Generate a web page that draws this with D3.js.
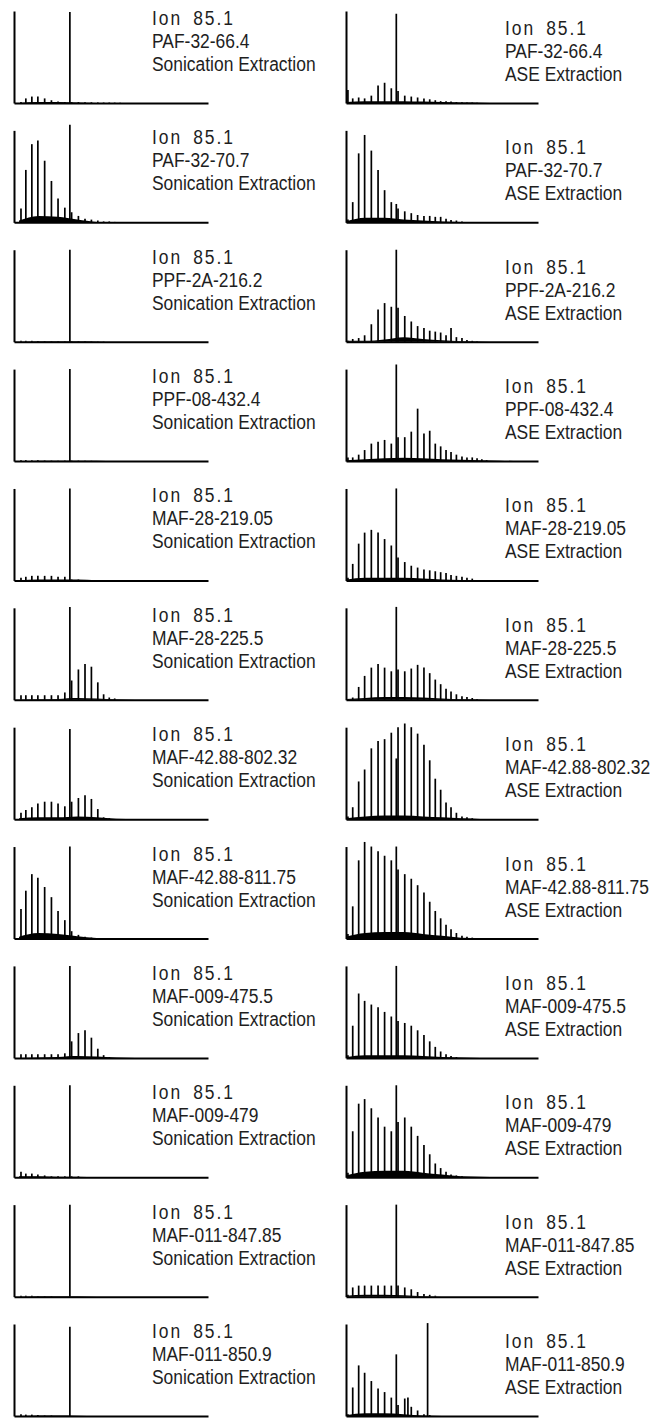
<!DOCTYPE html>
<html>
<head>
<meta charset="UTF-8">
<title>Ion 85.1 chromatograms</title>
<script src="https://d3js.org/d3.v7.min.js"></script>
<style>
  body { margin: 0; padding: 0; background: #fff; }
  .label { font-family: 'Liberation Sans', Arial, sans-serif; font-size: 21px; fill: #1e1e1e; }
</style>
</head>
<body>
<svg width="650" height="1418"></svg>
<script>
// ---- data ----
const ionLabel = "Ion 85.1";
const samples = ["PAF-32-66.4", "PAF-32-70.7", "PPF-2A-216.2", "PPF-08-432.4",
  "MAF-28-219.05", "MAF-28-225.5", "MAF-42.88-802.32", "MAF-42.88-811.75",
  "MAF-009-475.5", "MAF-009-479", "MAF-011-847.85", "MAF-011-850.9"];
const methods = ["Sonication Extraction", "ASE Extraction"];

// retention slots of the homologous series (arbitrary time units) and the standard
const alkaneRT = [0.4, 1.4, 2.64, 3.88, 5.28, 6.68, 8.04, 9.44, 10.84, 12.24, 13.6, 14.92,
  16.24, 17.44, 18.6, 19.72, 20.84, 21.88, 23.0, 24.16, 25.2, 26.3, 27.3, 28.3, 29.3];
const standardRT = 10.48;
const humpRT = [0, 4, 8, 12, 16, 20, 24, 28, 32, 36];

// peak heights, % of axis height
const sonicPeaks = [
  [1, 5, 7, 7, 5, 3, 1.5, 1, 1, 1, 0.8, 0.8, 0.6, 0.5, 0.5, 0.4, 0.3, 0, 0, 0, 0, 0, 0, 0, 0],
  [15, 57, 85, 89, 67, 45, 26, 16, 11, 7, 4, 3, 2, 1, 1, 0.5, 0, 0, 0, 0, 0, 0, 0, 0, 0],
  [1, 1, 1, 0.8, 0.6, 0.5, 0.5, 0.5, 0.5, 0.5, 0.4, 0.4, 0.3, 0.3, 0, 0, 0, 0, 0, 0, 0, 0, 0, 0, 0],
  [1, 1, 0.8, 0.8, 0.6, 0.5, 0.5, 0.5, 0.5, 0.5, 0.4, 0.3, 0, 0, 0, 0, 0, 0, 0, 0, 0, 0, 0, 0, 0],
  [3, 4, 5, 5, 5, 5, 4, 4, 1, 1, 0.5, 0, 0, 0, 0, 0, 0, 0, 0, 0, 0, 0, 0, 0, 0],
  [5, 5, 5, 5, 5, 5, 5, 8, 21, 33, 39, 36, 19, 6, 2.5, 1.5, 0, 0, 0, 0, 0, 0, 0, 0, 0],
  [7, 10, 13, 17, 19, 19, 17, 14, 19, 23, 26, 22, 11, 2, 1, 0, 0, 0, 0, 0, 0, 0, 0, 0, 0],
  [32, 52, 70, 66, 56, 45, 30, 20, 8, 4, 2, 1, 0, 0, 0, 0, 0, 0, 0, 0, 0, 0, 0, 0, 0],
  [4, 4, 4, 4, 4, 4, 4, 5, 18, 27, 30, 22, 10, 3, 1, 0, 0, 0, 0, 0, 0, 0, 0, 0, 0],
  [6, 4, 4, 3, 2, 1, 1, 1, 1, 1, 0, 0, 0, 0, 0, 0, 0, 0, 0, 0, 0, 0, 0, 0, 0],
  [1, 1, 1, 0.5, 0.5, 0.5, 0, 0, 0, 0, 0, 0, 0, 0, 0, 0, 0, 0, 0, 0, 0, 0, 0, 0, 0],
  [2, 1.5, 1.5, 1, 0.5, 0.5, 0, 0, 0, 0, 0, 0, 0, 0, 0, 0, 0, 0, 0, 0, 0, 0, 0, 0, 0]
];
const sonicStd = [99, 106, 100, 100, 100, 101, 98, 100, 100, 100, 100, 97];
const sonicHump = [
  [0, 1, 1, 0.5, 0, 0, 0, 0, 0, 0],
  [2, 7, 6, 3, 0.5, 0, 0, 0, 0, 0],
  [0, 0.5, 0.5, 0.5, 0.3, 0, 0, 0, 0, 0],
  [0, 0.5, 0.5, 0.5, 0.3, 0, 0, 0, 0, 0],
  [0, 1, 1, 1, 0.3, 0, 0, 0, 0, 0],
  [0, 0.5, 1, 2, 1.5, 0.5, 0, 0, 0, 0],
  [1, 2, 2, 3, 2, 0.5, 0, 0, 0, 0],
  [2, 6, 5, 2.5, 0.5, 0, 0, 0, 0, 0],
  [0, 0.5, 1, 2, 1.5, 0.5, 0, 0, 0, 0],
  [1, 1, 0.5, 0.5, 0, 0, 0, 0, 0, 0],
  [0, 0.5, 0.5, 0.3, 0, 0, 0, 0, 0, 0],
  [0, 0.5, 0.5, 0.3, 0, 0, 0, 0, 0, 0]
];

const asePeaks = [
  [14, 5, 6, 5, 8, 19, 22, 16, 13, 8, 7, 6, 5, 4, 3, 2, 2, 1.5, 1, 0.8, 0.5, 0.5, 0.3, 0, 0],
  [3, 22, 75, 95, 78, 57, 35, 22, 15, 12, 10, 8, 7, 7, 6, 6, 4, 2.5, 2, 1, 0.5, 0, 0, 0, 0],
  [1, 3, 4, 7, 19, 35, 42, 38, 37, 28, 22, 17, 15, 12, 11, 10, 7, 15, 5, 4, 2, 1, 0.5, 0, 0],
  [4, 4, 7, 12, 19, 21, 23, 19, 26, 26, 32, 57, 30, 33, 19, 16, 12, 10, 7, 5, 4, 4, 3, 2, 1],
  [3, 18, 40, 52, 55, 52, 45, 38, 25, 20, 16, 14, 12, 11, 10, 9, 8, 6, 5, 4, 3, 2, 0, 0, 0],
  [1, 2.5, 14, 26, 35, 39, 35, 31, 33, 31, 34, 38, 35, 29, 22, 17, 12, 9, 6, 4, 3, 2, 1, 0, 0],
  [3, 13, 41, 54, 77, 85, 87, 94, 100, 104, 100, 93, 81, 64, 44, 32, 18, 13, 7, 3, 2, 1, 0, 0, 0],
  [5, 35, 85, 105, 100, 95, 90, 85, 75, 70, 65, 58, 50, 40, 30, 22, 15, 10, 6, 3, 2, 1, 0, 0, 0],
  [3, 35, 70, 62, 58, 55, 50, 45, 40, 38, 35, 30, 25, 18, 12, 7, 4, 2, 1, 0, 0, 0, 0, 0, 0],
  [5, 50, 80, 85, 75, 65, 55, 50, 60, 65, 55, 45, 35, 25, 15, 10, 6, 3, 2, 1, 0, 0, 0, 0, 0],
  [2, 10, 12, 12, 12, 12, 12, 12, 12, 10, 8, 5, 3, 2, 1, 0, 0, 0, 0, 0, 0, 0, 0, 0, 0],
  [2, 31, 55, 47, 38, 30, 26, 20, 12, 19, 10, 6, 2, 1, 0, 0, 0, 0, 0, 0, 0, 0, 0, 0, 0]
];
const aseStd = [97, 20, 100, 105, 100, 101, 66, 100, 100, 100, 100, 67];
const aseHump = [
  [1, 2, 2, 2, 1.5, 1, 0.5, 0.3, 0, 0],
  [1, 5, 5, 3, 2, 1, 0.5, 0, 0, 0],
  [1, 1, 2.5, 5, 3, 1.5, 0.5, 0.3, 0, 0],
  [1, 2, 3, 3.5, 3, 2, 1.5, 1, 0.5, 0],
  [1, 3, 3, 3, 2, 1, 0.5, 0, 0, 0],
  [1, 2, 3, 3, 2.5, 1.5, 0.5, 0.3, 0, 0],
  [1, 3, 4, 4, 3, 2, 1, 0.3, 0, 0],
  [2, 6, 7, 7, 5, 3, 1, 0.5, 0, 0],
  [1, 3, 3, 3, 2, 1, 0.5, 0, 0, 0],
  [2, 6, 7, 7, 5, 3, 1, 0.5, 0, 0],
  [1, 2, 2, 1.5, 0.5, 0, 0, 0, 0, 0],
  [1, 3, 3, 2, 0.5, 0, 0, 0, 0, 0]
];
// unidentified large peaks: [retention, height]
const aseExtra = [[], [], [], [], [], [], [], [], [], [], [], [[17.0, 101], [12.9, 20]]];

// ---- layout ----
const svg = d3.select("svg");
const rowY = d3.scaleLinear().domain([0, samples.length - 1]).range([103, 1416]);
const plotH = 92;
const columns = [
  { method: methods[0], peaks: sonicPeaks, std: sonicStd, hump: sonicHump, extra: null,
    x0: 14, x1: 208, rt0: -1.04, rt1: 38.96, textX: 152, textDy: [14, 37, 60] },
  { method: methods[1], peaks: asePeaks, std: aseStd, hump: aseHump, extra: aseExtra,
    x0: 346, x1: 538, rt0: 0, rt1: 40, textX: 505, textDy: [24, 47, 70] }
];

columns.forEach(col => {
  samples.forEach((name, i) => {
    const yB = rowY(i);
    const x = d3.scaleLinear().domain([col.rt0, col.rt1]).range([col.x0, col.x1]);
    const y = d3.scaleLinear().domain([0, 100]).range([yB, yB - plotH]);
    const g = svg.append("g");

    // unresolved hump near the baseline
    const hump = humpRT.map((rt, k) => [rt, col.hump[i][k]]);
    g.append("path")
      .datum(hump)
      .attr("fill", "#000")
      .attr("d", d3.area().x(d => x(d[0])).y0(y(0)).y1(d => y(d[1])).curve(d3.curveMonotoneX));

    let peaks = alkaneRT.map((rt, k) => ({ rt: rt, h: col.peaks[i][k] })).filter(d => d.h > 0);
    peaks.push({ rt: standardRT, h: col.std[i] });
    if (col.extra) col.extra[i].forEach(e => peaks.push({ rt: e[0], h: e[1] }));

    g.selectAll("line.peak")
      .data(peaks)
      .enter()
      .append("line")
      .attr("class", "peak")
      .attr("x1", d => x(d.rt)).attr("x2", d => x(d.rt))
      .attr("y1", y(0)).attr("y2", d => y(d.h))
      .attr("stroke", "#000")
      .attr("stroke-width", 1.7);

    // L-shaped frame
    g.append("g")
      .attr("transform", `translate(0,${yB})`)
      .call(d3.axisBottom(x).tickValues([]).tickSizeOuter(0))
      .select(".domain").attr("stroke-width", 2);
    g.append("g")
      .attr("transform", `translate(${col.x0},0)`)
      .call(d3.axisLeft(y).tickValues([]).tickSizeOuter(0))
      .select(".domain").attr("stroke-width", 2);

    const lines = [ionLabel, name, col.method];
    lines.forEach((t, k) => {
      g.append("text")
        .attr("class", "label")
        .attr("transform", `translate(${col.textX},${yB - plotH + col.textDy[k]}) scale(0.83,1)`)
        .style("letter-spacing", k === 0 ? "2.4px" : null)
        .style("word-spacing", k === 0 ? "5px" : null)
        .text(t);
    });
  });
});
</script>
</body>
</html>
